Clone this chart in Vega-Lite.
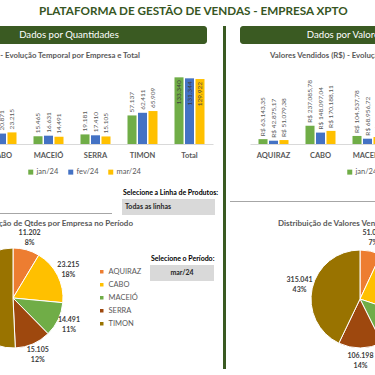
{
  "$schema": "https://vega.github.io/schema/vega-lite/v6.json",
  "background": "white",
  "padding": {"left": -69, "top": 6, "right": 0, "bottom": 0},
  "config": {
    "font": "Lato",
    "view": {"stroke": null},
    "locale": {"number": {"decimal": ",", "thousands": ".", "grouping": [3], "currency": ["R$ ", ""]}}
  },
  "title": {"text": "PLATAFORMA DE GESTÃO DE VENDAS - EMPRESA XPTO", "anchor": "start", "dx": 108, "fontSize": 11.7, "fontWeight": "bold", "color": "#375623", "offset": 8},
  "datasets": {
    "qtd": [
      {"empresa": "AQUIRAZ", "mes": "jan/24", "qtd": 12557},
      {"empresa": "AQUIRAZ", "mes": "fev/24", "qtd": 14021},
      {"empresa": "AQUIRAZ", "mes": "mar/24", "qtd": 11202},
      {"empresa": "CABO", "mes": "jan/24", "qtd": 29000},
      {"empresa": "CABO", "mes": "fev/24", "qtd": 20871},
      {"empresa": "CABO", "mes": "mar/24", "qtd": 23215},
      {"empresa": "MACEIÓ", "mes": "jan/24", "qtd": 15465},
      {"empresa": "MACEIÓ", "mes": "fev/24", "qtd": 16631},
      {"empresa": "MACEIÓ", "mes": "mar/24", "qtd": 14491},
      {"empresa": "SERRA", "mes": "jan/24", "qtd": 19181},
      {"empresa": "SERRA", "mes": "fev/24", "qtd": 17410},
      {"empresa": "SERRA", "mes": "mar/24", "qtd": 15105},
      {"empresa": "TIMON", "mes": "jan/24", "qtd": 57137},
      {"empresa": "TIMON", "mes": "fev/24", "qtd": 62411},
      {"empresa": "TIMON", "mes": "mar/24", "qtd": 65909},
      {"empresa": "Total", "mes": "jan/24", "qtd": 133340},
      {"empresa": "Total", "mes": "fev/24", "qtd": 131344},
      {"empresa": "Total", "mes": "mar/24", "qtd": 129922}
    ],
    "valor": [
      {"empresa": "AQUIRAZ", "mes": "jan/24", "valor": 63143.35},
      {"empresa": "AQUIRAZ", "mes": "fev/24", "valor": 42875.17},
      {"empresa": "AQUIRAZ", "mes": "mar/24", "valor": 51079.38},
      {"empresa": "CABO", "mes": "jan/24", "valor": 237085.78},
      {"empresa": "CABO", "mes": "fev/24", "valor": 148097.04},
      {"empresa": "CABO", "mes": "mar/24", "valor": 170188.11},
      {"empresa": "MACEIÓ", "mes": "jan/24", "valor": 104537.78},
      {"empresa": "MACEIÓ", "mes": "fev/24", "valor": 68956.72},
      {"empresa": "MACEIÓ", "mes": "mar/24", "valor": 91934.72},
      {"empresa": "SERRA", "mes": "jan/24", "valor": 98412.55},
      {"empresa": "SERRA", "mes": "fev/24", "valor": 87305.20},
      {"empresa": "SERRA", "mes": "mar/24", "valor": 106198.40},
      {"empresa": "TIMON", "mes": "jan/24", "valor": 290733.14},
      {"empresa": "TIMON", "mes": "fev/24", "valor": 301522.80},
      {"empresa": "TIMON", "mes": "mar/24", "valor": 315041.25},
      {"empresa": "Total", "mes": "jan/24", "valor": 793912.60},
      {"empresa": "Total", "mes": "fev/24", "valor": 648756.93},
      {"empresa": "Total", "mes": "mar/24", "valor": 734441.86}
    ],
    "qtdPie": [
      {"empresa": "AQUIRAZ", "qtd": 11202, "pct": 0.08},
      {"empresa": "CABO", "qtd": 23215, "pct": 0.18},
      {"empresa": "MACEIÓ", "qtd": 14491, "pct": 0.11},
      {"empresa": "SERRA", "qtd": 15105, "pct": 0.12},
      {"empresa": "TIMON", "qtd": 65909, "pct": 0.51}
    ],
    "valPie": [
      {"empresa": "AQUIRAZ", "valor": 51079.38, "pct": 0.07},
      {"empresa": "CABO", "valor": 170188.11, "pct": 0.23},
      {"empresa": "MACEIÓ", "valor": 91934.72, "pct": 0.13},
      {"empresa": "SERRA", "valor": 106198.40, "pct": 0.14},
      {"empresa": "TIMON", "valor": 315041.25, "pct": 0.43}
    ],
    "blank": [{}]
  },
  "resolve": {"scale": {"color": "independent"}, "legend": {"color": "independent"}},
  "spacing": 4,
  "hconcat": [
    {
      "spacing": 0,
      "resolve": {"scale": {"color": "independent"}, "legend": {"color": "independent"}},
      "vconcat": [
        {"width": 276, "height": 18, "data": {"name": "blank"}, "view": {"fill": "#3a5a22", "stroke": null, "cornerRadius": 3},
         "mark": {"type": "text", "text": "Dados por Quantidades", "color": "white", "fontSize": 9.6}, "encoding": {}},
        {"width": 209, "height": 23, "data": {"name": "blank"},
         "mark": {"type": "text", "text": "Qtde Vendida - Evolução Temporal por Empresa e Total", "x": "width", "align": "right", "baseline": "middle", "fontSize": 7.8, "fontWeight": "bold", "color": "#595959"}, "encoding": {}},
        {
          "width": 282, "height": 77,
          "data": {"name": "qtd"},
          "encoding": {
            "x": {"field": "empresa", "type": "nominal", "sort": ["AQUIRAZ", "CABO", "MACEIÓ", "SERRA", "TIMON", "Total"], "scale": {"paddingInner": 0, "paddingOuter": 0},
                  "axis": {"title": null, "labelAngle": 0, "ticks": false, "domainColor": "#d9d9d9", "labelColor": "#595959", "labelFontSize": 7.5, "labelFontWeight": "bold", "labelPadding": 7}},
            "xOffset": {"field": "mes", "sort": ["jan/24", "fev/24", "mar/24"], "scale": {"paddingInner": 0.14, "paddingOuter": 0.81}},
            "y": {"field": "qtd", "type": "quantitative", "scale": {"domain": [0, 154000]}, "axis": null}
          },
          "layer": [
            {"mark": {"type": "bar"},
             "encoding": {"color": {"field": "mes", "type": "nominal", "sort": ["jan/24", "fev/24", "mar/24"], "scale": {"range": ["#70AD47", "#4472C4", "#FFC000"]},
               "legend": {"title": null, "orient": "none", "legendX": 96, "legendY": 101, "direction": "horizontal", "symbolType": "square", "symbolSize": 25, "labelFontSize": 7.5, "labelColor": "#595959", "columnPadding": 8, "labelOffset": 2}}}},
            {"transform": [{"filter": "datum.empresa != 'Total'"}],
             "mark": {"type": "text", "angle": 270, "align": "left", "baseline": "middle", "dx": 3, "fontSize": 6.5, "color": "#595959"},
             "encoding": {"text": {"field": "qtd", "type": "quantitative", "format": ",.0f"}}},
            {"transform": [{"filter": "datum.empresa == 'Total'"}],
             "mark": {"type": "text", "angle": 270, "align": "right", "baseline": "middle", "dx": -3, "fontSize": 6.5, "color": "#404040"},
             "encoding": {"text": {"field": "qtd", "type": "quantitative", "format": ",.0f"}}}
          ]
        },
        {
          "spacing": 10,
          "hconcat": [
            {"spacing": 0, "vconcat": [
              {"width": 181, "height": 29, "data": {"name": "blank"}, "mark": {"type": "text"}, "encoding": {}},
              {"width": 181, "height": 1, "data": {"name": "blank"}, "view": {"fill": "#a6a6a6", "stroke": null}, "mark": {"type": "text"}, "encoding": {}}
            ]},
            {"spacing": 0, "vconcat": [
              {"width": 1, "height": 8, "data": {"name": "blank"}, "mark": {"type": "text"}, "encoding": {}},
              {"width": 93, "height": 12, "data": {"name": "blank"},
               "mark": {"type": "text", "text": "Selecione a Linha de Produtos:", "x": 1, "align": "left", "baseline": "middle", "fontSize": 7, "fontWeight": "bold", "color": "black"}, "encoding": {}},
              {"width": 93, "height": 16, "data": {"name": "blank"}, "view": {"fill": "#d9d9d9", "stroke": null},
               "mark": {"type": "text", "text": "Todas as linhas", "align": "left", "x": 3, "fontSize": 7, "fontWeight": "bold", "color": "#262626"}, "encoding": {}}
            ]}
          ]
        },
        {
          "spacing": 8,
          "resolve": {"scale": {"color": "independent"}, "legend": {"color": "independent"}},
          "hconcat": [
            {"spacing": 0, "vconcat": [
              {"width": 202, "height": 10, "data": {"name": "blank"},
               "mark": {"type": "text", "text": "Distribuição de Qtdes por Empresa no Período", "x": "width", "align": "right", "baseline": "middle", "fontSize": 8, "fontWeight": "bold", "color": "#595959"}, "encoding": {}},
              {
                "width": 164, "height": 138,
                "data": {"name": "qtdPie"},
                "encoding": {
                  "theta": {"field": "qtd", "type": "quantitative", "stack": true},
                  "order": {"field": "empresa", "sort": "ascending"}
                },
                "layer": [
                  {"mark": {"type": "arc", "outerRadius": 50, "stroke": "white", "strokeWidth": 1},
                   "encoding": {"color": {"field": "empresa", "type": "nominal", "sort": ["AQUIRAZ", "CABO", "MACEIÓ", "SERRA", "TIMON"], "scale": {"range": ["#ED7D31", "#FFC000", "#70AD47", "#9E480E", "#997300"]},
                    "legend": {"title": null, "orient": "none", "legendX": 167, "legendY": 49, "symbolType": "square", "symbolSize": 25, "labelFontSize": 7.5, "labelColor": "#595959", "rowPadding": 1, "labelOffset": 3}}}},
                  {"mark": {"type": "text", "radius": 62, "dy": -5, "fontSize": 7, "fontWeight": "bold", "color": "#404040"}, "encoding": {"text": {"field": "qtd", "type": "quantitative", "format": ",.0f"}}},
                  {"mark": {"type": "text", "radius": 62, "dy": 5, "fontSize": 7, "fontWeight": "bold", "color": "#404040"}, "encoding": {"text": {"field": "pct", "type": "quantitative", "format": ".0%"}}}
                ]
              }
            ]},
            {"spacing": 0, "vconcat": [
              {"width": 1, "height": 34, "data": {"name": "blank"}, "mark": {"type": "text"}, "encoding": {}},
              {"width": 64, "height": 12, "data": {"name": "blank"},
               "mark": {"type": "text", "text": "Selecione o Período:", "x": 1, "align": "left", "baseline": "middle", "fontSize": 7, "fontWeight": "bold", "color": "black"}, "encoding": {}},
              {"width": 64, "height": 16, "data": {"name": "blank"}, "view": {"fill": "#d9d9d9", "stroke": null},
               "mark": {"type": "text", "text": "mar/24", "fontSize": 7, "fontWeight": "bold", "color": "#262626"}, "encoding": {}}
            ]}
          ]
        }
      ]
    },
    {"width": 3, "height": 343, "data": {"name": "blank"}, "view": {"fill": "#3a5a22", "stroke": null}, "mark": {"type": "text"}, "encoding": {}},
    {
      "spacing": 0,
      "resolve": {"scale": {"color": "independent"}, "legend": {"color": "independent"}},
      "vconcat": [
        {"spacing": 0, "hconcat": [
          {"width": 10, "height": 18, "data": {"name": "blank"}, "mark": {"type": "text"}, "encoding": {}},
          {"width": 210, "height": 18, "data": {"name": "blank"}, "view": {"fill": "#3a5a22", "stroke": null, "cornerRadius": 3},
           "mark": {"type": "text", "text": "Dados por Valores", "color": "white", "fontSize": 9.6}, "encoding": {}}
        ]},
        {"width": 300, "height": 23, "data": {"name": "blank"},
         "mark": {"type": "text", "text": "Valores Vendidos (R$) - Evolução Temporal por Empresa e Total", "x": 40, "align": "left", "baseline": "middle", "fontSize": 7.8, "fontWeight": "bold", "color": "#595959"}, "encoding": {}},
        {"spacing": 0,
         "resolve": {"scale": {"color": "independent"}, "legend": {"color": "independent"}},
         "hconcat": [
          {"width": 20, "height": 77, "data": {"name": "blank"}, "mark": {"type": "text"}, "encoding": {}},
          {
            "width": 282, "height": 77,
            "data": {"name": "valor"},
            "encoding": {
              "x": {"field": "empresa", "type": "nominal", "sort": ["AQUIRAZ", "CABO", "MACEIÓ", "SERRA", "TIMON", "Total"], "scale": {"paddingInner": 0, "paddingOuter": 0},
                    "axis": {"title": null, "labelAngle": 0, "ticks": false, "domainColor": "#d9d9d9", "labelColor": "#595959", "labelFontSize": 7.5, "labelFontWeight": "bold", "labelPadding": 7}},
              "xOffset": {"field": "mes", "sort": ["jan/24", "fev/24", "mar/24"], "scale": {"paddingInner": 0.14, "paddingOuter": 0.81}},
              "y": {"field": "valor", "type": "quantitative", "scale": {"domain": [0, 1000000]}, "axis": null}
            },
            "layer": [
              {"mark": {"type": "bar"},
               "encoding": {"color": {"field": "mes", "type": "nominal", "sort": ["jan/24", "fev/24", "mar/24"], "scale": {"range": ["#70AD47", "#4472C4", "#FFC000"]},
                 "legend": {"title": null, "orient": "none", "legendX": 96, "legendY": 101, "direction": "horizontal", "symbolType": "square", "symbolSize": 25, "labelFontSize": 7.5, "labelColor": "#595959", "columnPadding": 8, "labelOffset": 2}}}},
              {"transform": [{"filter": "datum.empresa != 'Total'"}],
               "mark": {"type": "text", "angle": 270, "align": "left", "baseline": "middle", "dx": 3, "fontSize": 6.5, "color": "#595959"},
               "encoding": {"text": {"field": "valor", "type": "quantitative", "format": "$,.2f"}}},
              {"transform": [{"filter": "datum.empresa == 'Total'"}],
               "mark": {"type": "text", "angle": 270, "align": "right", "baseline": "middle", "dx": -3, "fontSize": 6.5, "color": "#404040"},
               "encoding": {"text": {"field": "valor", "type": "quantitative", "format": "$,.2f"}}}
            ]
          }
        ]},
        {"spacing": 0, "vconcat": [
          {"width": 160, "height": 19, "data": {"name": "blank"}, "mark": {"type": "text"}, "encoding": {}},
          {"width": 160, "height": 1, "data": {"name": "blank"}, "view": {"fill": "#a6a6a6", "stroke": null}, "mark": {"type": "text"}, "encoding": {}},
          {"width": 1, "height": 3, "data": {"name": "blank"}, "mark": {"type": "text"}, "encoding": {}}
        ]},
        {"width": 300, "height": 10, "data": {"name": "blank"},
         "mark": {"type": "text", "text": "Distribuição de Valores Vendidos por Empresa no Período", "x": 48, "align": "left", "baseline": "middle", "fontSize": 8, "fontWeight": "bold", "color": "#595959"}, "encoding": {}},
        {
          "width": 260, "height": 138,
          "data": {"name": "valPie"},
          "encoding": {
            "theta": {"field": "valor", "type": "quantitative", "stack": true},
            "order": {"field": "empresa", "sort": "ascending"}
          },
          "layer": [
            {"mark": {"type": "arc", "outerRadius": 49, "stroke": "white", "strokeWidth": 1},
             "encoding": {"color": {"field": "empresa", "type": "nominal", "sort": ["AQUIRAZ", "CABO", "MACEIÓ", "SERRA", "TIMON"], "scale": {"range": ["#ED7D31", "#FFC000", "#70AD47", "#9E480E", "#997300"]}, "legend": null}}},
            {"mark": {"type": "text", "radius": 62, "dy": -5, "fontSize": 7, "fontWeight": "bold", "color": "#404040"}, "encoding": {"text": {"field": "valor", "type": "quantitative", "format": ",.0f"}}},
            {"mark": {"type": "text", "radius": 62, "dy": 5, "fontSize": 7, "fontWeight": "bold", "color": "#404040"}, "encoding": {"text": {"field": "pct", "type": "quantitative", "format": ".0%"}}}
          ]
        }
      ]
    }
  ]
}
